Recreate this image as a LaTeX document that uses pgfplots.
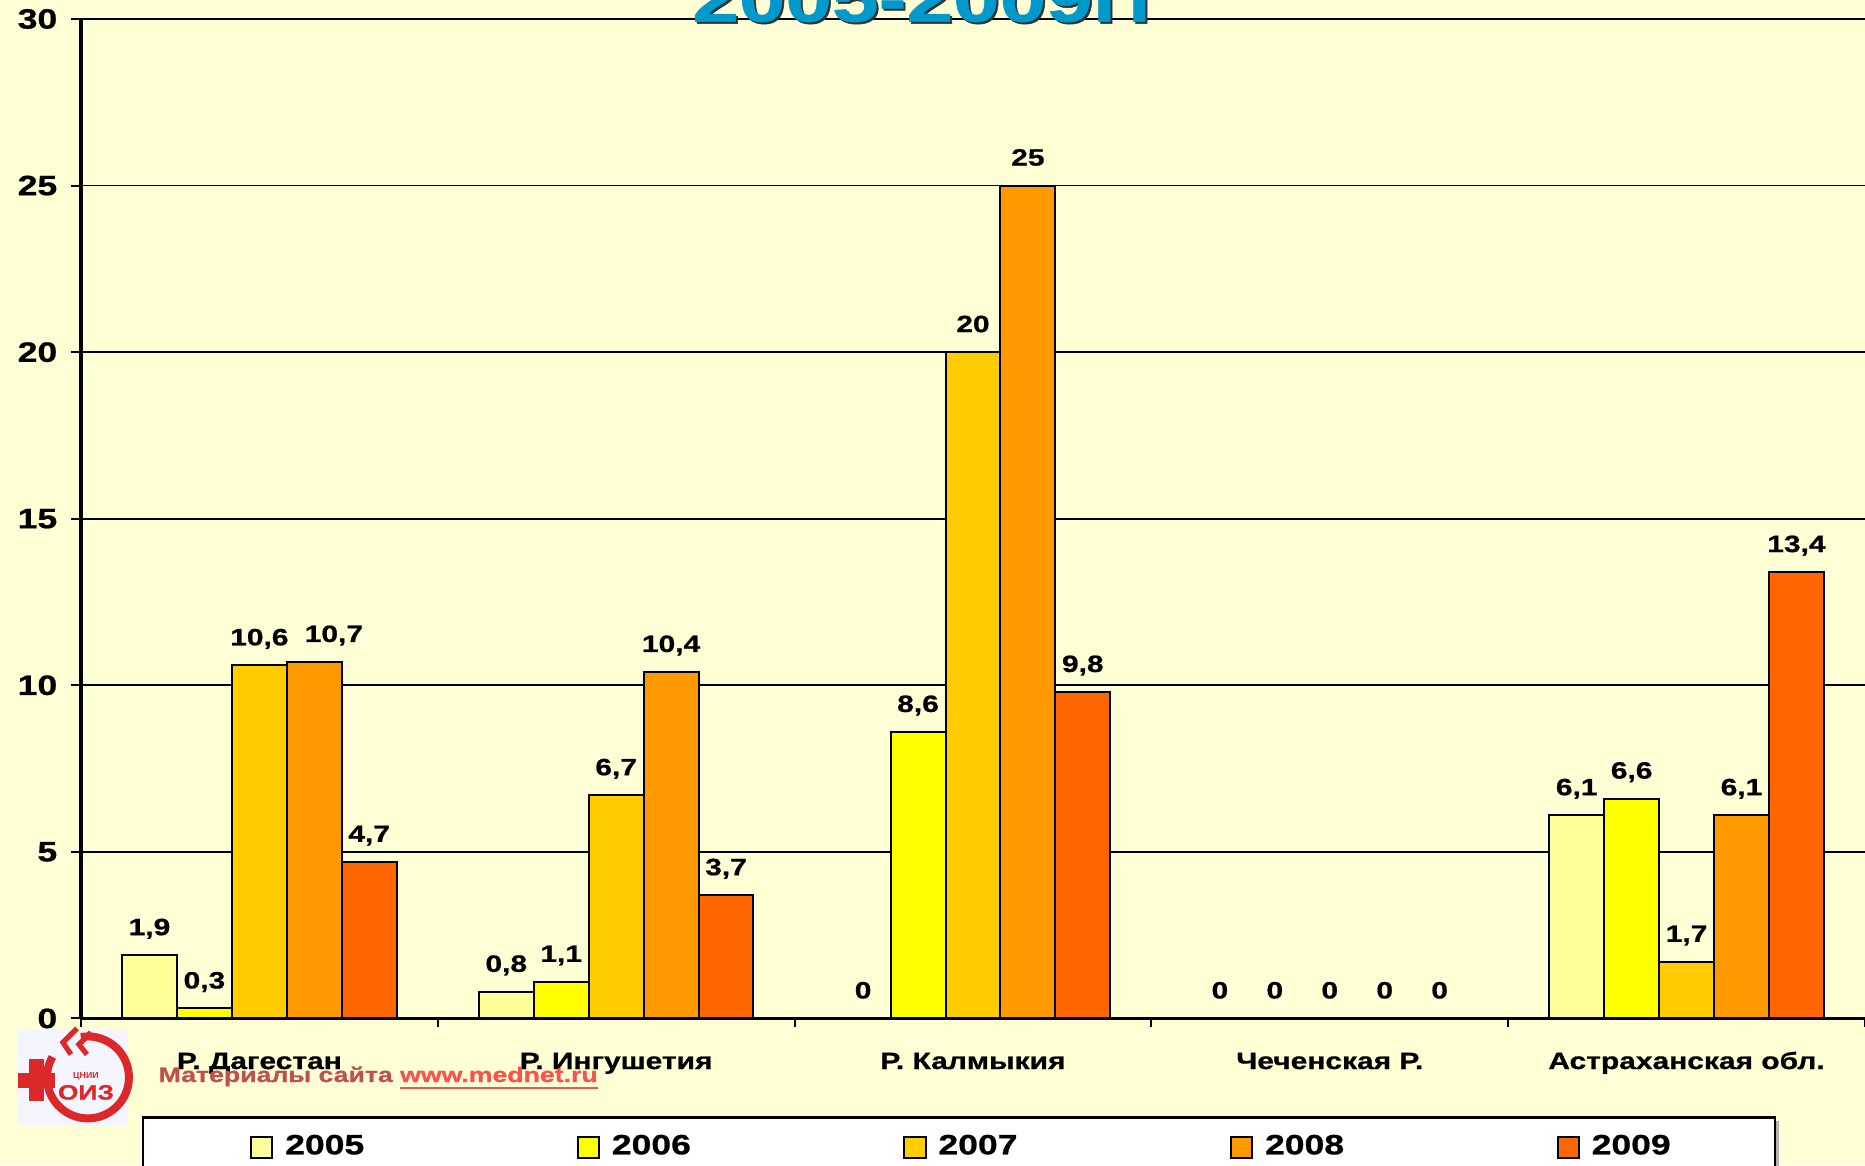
\documentclass[border=0pt]{standalone}
\usepackage{fontspec}
\setmainfont{Liberation Sans}
\newfontfamily\wide[FakeStretch=1.27, BoldFeatures={FakeBold=0.8}]{Liberation Sans}
\usepackage{pgfplots}
\pgfplotsset{compat=1.18}
\definecolor{bgyellow}{RGB}{255,255,214}
\definecolor{c2005}{RGB}{255,255,153}
\definecolor{c2006}{RGB}{255,255,0}
\definecolor{c2007}{RGB}{255,204,0}
\definecolor{c2008}{RGB}{255,153,0}
\definecolor{c2009}{RGB}{255,102,0}
\definecolor{titleblue}{RGB}{0,153,204}
\definecolor{wmred}{RGB}{192,80,77}
\definecolor{urlred}{RGB}{255,80,80}
\definecolor{logored}{RGB}{220,40,40}

\begin{document}
\begin{tikzpicture}
\path[use as bounding box, fill=bgyellow] (-20.25pt,-36.75pt) rectangle (446.25pt,254.75pt);
\clip (-20.25pt,-36.75pt) rectangle (446.25pt,254.75pt);
% legend frame
\fill[gray!60] (16.5pt,-25.75pt) rectangle (424.75pt,-45pt);
\draw[line width=0.6pt, fill=white] (15.5pt,-24.75pt) rectangle (423.75pt,-45pt);

\begin{axis}[
  at={(0,0)}, anchor=south west,
  scale only axis, width=446.25pt, height=250pt,
  ymin=0, ymax=30, ytick={0,5,...,30},
  xmin=0, xmax=5,
  xtick={0.5,1.5,2.5,3.5,4.5},
  xticklabels={Р. Дагестан, Р. Ингушетия, Р. Калмыкия, Чеченская Р., Астраханская обл.},
  minor xtick={0,1,...,5},
  major x tick style={draw=none},
  tick align=outside,
  major tick length=2.4pt, minor tick length=2.1pt,
  tick style={black, line width=0.5pt},
  axis x line*=bottom, axis y line*=left,
  axis line style={black, line width=0.8pt, -},
  ymajorgrids, grid style={black, line width=0.4pt},
  /pgf/number format/assume math mode=true,
  /pgf/number format/use comma,
  yticklabel style={font=\wide\bfseries\fontsize{7}{8}\selectfont},
  xticklabel style={font=\wide\bfseries\fontsize{5.9}{7}\selectfont, anchor=base, yshift=-10.25pt},
  ybar=0pt, bar width=13.74pt,
  nodes near coords,
  every node near coord/.append style={font=\wide\bfseries\fontsize{5.9}{7}\selectfont, anchor=base, yshift=5pt},
  legend columns=5,
  legend style={draw=none, fill=none, at={(0.0949,-0.1292)}, anchor=west,
    inner sep=0pt, outer sep=0pt,
    font=\wide\bfseries\fontsize{7}{8}\selectfont,
    nodes={inner sep=0pt},
    /tikz/every odd column/.append style={column sep=2.95pt},
    /tikz/every even column/.append style={column sep=53.17pt}},
  bar/.style={draw=black, line width=0.5pt,
    legend image code/.code={\draw[##1, line width=0.5pt] (0pt,-2.65pt) rectangle (5.3pt,2.65pt);}},
]
\addplot[bar, fill=c2005] coordinates {(0.5,1.9) (1.5,0.8) (2.5,0) (3.5,0) (4.5,6.1)};
\addplot[bar, fill=c2006] coordinates {(0.5,0.3) (1.5,1.1) (2.5,8.6) (3.5,0) (4.5,6.6)};
\addplot[bar, fill=c2007] coordinates {(0.5,10.6) (1.5,6.7) (2.5,20) (3.5,0) (4.5,1.7)};
\addplot[bar, fill=c2008, coordinate style/.condition={x==0.5}{xshift=4.9pt}] coordinates {(0.5,10.7) (1.5,10.4) (2.5,25) (3.5,0) (4.5,6.1)};
\addplot[bar, fill=c2009] coordinates {(0.5,4.7) (1.5,3.7) (2.5,9.8) (3.5,0) (4.5,13.4)};
\legend{2005,2006,2007,2008,2009}
\end{axis}

% title (cut off by the top edge)
\node[font=\wide\bfseries\fontsize{16.5}{18}\selectfont, text=black!80, anchor=base] at (212.25pt,248.85pt) {2005-2009гг};
\node[font=\wide\bfseries\fontsize{16.5}{18}\selectfont, text=titleblue, anchor=base] at (211.75pt,249.35pt) {2005-2009гг};

% logo
\fill[white!96!blue] (-15.75pt,-3pt) rectangle (11.75pt,-27pt);
\draw[logored, line width=2pt] (1.75pt,-14.75pt) ++(100:10.25pt) arc[start angle=100, end angle=-210, radius=10.25pt];
\draw[logored, line width=1.3pt] (-1pt,-2.5pt) -- (-4.5pt,-6pt) -- (-2.5pt,-9pt);
\draw[logored, line width=1.3pt] (2.5pt,-3.5pt) -- (-0.5pt,-6.5pt) -- (1.5pt,-9pt);
\fill[logored] (-15.75pt,-13.75pt) rectangle (-6.5pt,-17.5pt);
\fill[logored] (-12.9pt,-10.25pt) rectangle (-9.2pt,-20.75pt);
\node[logored, font=\bfseries\fontsize{2.2}{2.2}\selectfont, inner sep=0pt] at (1.25pt,-14.5pt) {ЦНИИ};
\node[logored, font=\wide\bfseries\fontsize{5.2}{5.2}\selectfont, inner sep=0pt] at (1.25pt,-18.5pt) {ОИЗ};

% watermark
\node[anchor=base west, font=\wide\bfseries\fontsize{5.25}{6}\selectfont, inner sep=0pt] at (19.25pt,-15.9pt)
  {\textcolor{wmred}{Материалы сайта }\textcolor{urlred}{\underline{www.mednet.ru}}};
\end{tikzpicture}
\end{document}
